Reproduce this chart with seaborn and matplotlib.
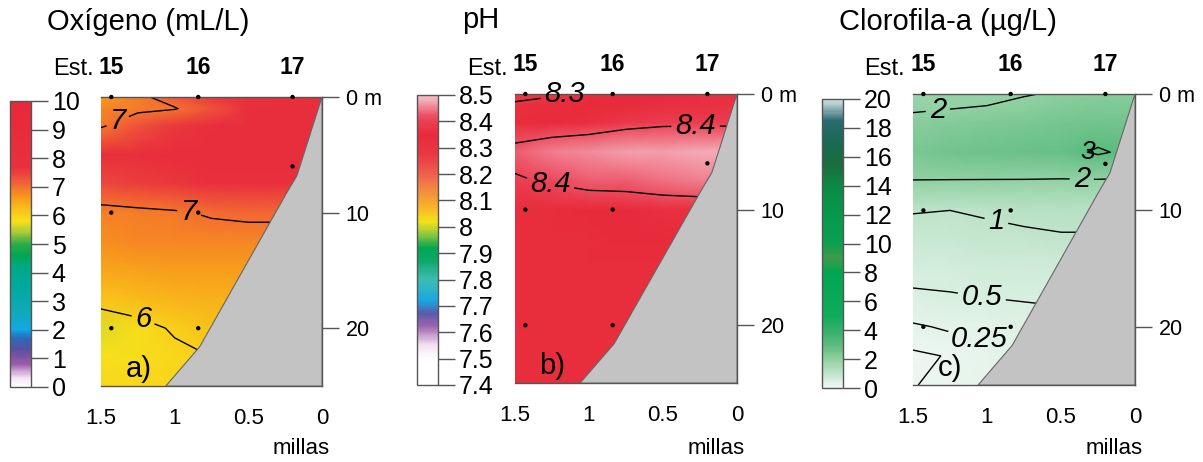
import numpy as np
import seaborn as sns
import matplotlib.pyplot as plt
from matplotlib.colors import LinearSegmentedColormap, Normalize
from matplotlib.cm import ScalarMappable

sns.set_theme(style='white')
plt.rcParams['font.family'] = ['Liberation Sans', 'DejaVu Sans']
plt.rcParams['text.color'] = 'black'

W, H = 1203, 462

# grid nodes: distance to coast (millas) and depth (m)
dist = [1.5, 1.25, 1.0, 0.75, 0.5, 0.25, 0.0]
depth = [0, 1, 2.5, 5, 7.5, 10, 12.5, 15, 17.5, 20, 22.5, 25]

oxygen = [
    [6.60, 6.90, 7.20, 7.60, 7.80, 7.90, 8.00],
    [6.80, 6.90, 6.97, 7.30, 7.90, 8.20, 8.30],
    [6.95, 7.30, 7.60, 8.00, 8.30, 8.50, 8.50],
    [7.80, 8.10, 8.40, 8.60, 8.70, 8.60, 8.50],
    [7.40, 7.50, 7.60, 7.70, 7.80, 7.80, 7.80],
    [6.85, 6.90, 6.95, 7.05, 7.10, 7.10, 7.10],
    [6.75, 6.80, 6.80, 6.80, 6.80, 6.80, 6.80],
    [6.50, 6.55, 6.60, 6.60, 6.60, 6.60, 6.60],
    [6.15, 6.25, 6.35, 6.40, 6.40, 6.40, 6.40],
    [5.70, 5.85, 6.05, 6.20, 6.20, 6.20, 6.20],
    [5.80, 5.85, 5.90, 6.00, 6.00, 6.00, 6.00],
    [5.90, 5.90, 5.90, 5.90, 5.90, 5.90, 5.90],
]

ph = [
    [8.28, 8.29, 8.32, 8.34, 8.35, 8.36, 8.36],
    [8.31, 8.33, 8.34, 8.35, 8.36, 8.36, 8.37],
    [8.33, 8.35, 8.36, 8.38, 8.39, 8.39, 8.39],
    [8.43, 8.45, 8.46, 8.47, 8.47, 8.48, 8.48],
    [8.39, 8.41, 8.43, 8.43, 8.44, 8.45, 8.45],
    [8.33, 8.33, 8.34, 8.35, 8.36, 8.36, 8.36],
    [8.33, 8.33, 8.33, 8.34, 8.34, 8.34, 8.34],
    [8.33, 8.33, 8.33, 8.33, 8.33, 8.33, 8.33],
    [8.33, 8.33, 8.33, 8.33, 8.33, 8.33, 8.33],
    [8.32, 8.33, 8.33, 8.33, 8.33, 8.33, 8.33],
    [8.33, 8.33, 8.33, 8.33, 8.33, 8.33, 8.33],
    [8.33, 8.33, 8.33, 8.33, 8.33, 8.33, 8.33],
]

chl = [
    [1.85, 1.88, 1.90, 1.97, 2.05, 2.15, 2.20],
    [1.90, 1.95, 2.00, 2.10, 2.20, 2.30, 2.30],
    [2.15, 2.20, 2.30, 2.40, 2.45, 2.50, 2.50],
    [2.40, 2.50, 2.60, 2.70, 2.75, 3.10, 2.80],
    [1.98, 1.97, 1.96, 1.95, 1.93, 1.92, 1.90],
    [1.02, 1.00, 1.05, 1.10, 1.15, 1.15, 1.15],
    [0.85, 0.85, 0.88, 0.92, 0.95, 0.95, 0.95],
    [0.60, 0.62, 0.65, 0.68, 0.70, 0.70, 0.70],
    [0.45, 0.47, 0.50, 0.52, 0.54, 0.55, 0.55],
    [0.22, 0.28, 0.28, 0.38, 0.40, 0.40, 0.40],
    [0.07, 0.11, 0.22, 0.30, 0.35, 0.35, 0.35],
    [0.095, 0.13, 0.16, 0.25, 0.30, 0.30, 0.30],
]

# stations and sampling points
stations = ['15', '16', '17']
station_dist = [1.43, 0.84, 0.2]
sample_dist = [1.43, 0.84, 0.2, 0.2, 1.43, 0.84, 1.43, 0.84]
sample_depth = [0, 0, 0, 6, 10, 10, 20, 20]

# sea floor
bottom_dist = [1.06, 0.83, 0.24, 0.17, 0.0, 0.0]
bottom_depth = [25, 21.6, 8.3, 6.8, 0.0, 25]

# colour scales
oxy_stops = [(0, '#ffffff'), (0.3, '#f3e4f3'), (0.8, '#9a5aa8'), (1.3, '#5a4fa0'),
             (1.7, '#2a6ab8'), (2.0, '#11a8e6'), (2.6, '#10aab8'), (3.5, '#00a99d'),
             (4.2, '#00a884'), (4.6, '#00a651'), (5.0, '#2bac4a'), (5.4, '#a6ca3a'),
             (5.8, '#f7e01b'), (6.2, '#f9c21a'), (6.7, '#f7941d'), (7.2, '#f15a3a'),
             (7.7, '#e8303d'), (10, '#e8283a')]
ph_stops = [(7.4, '#ffffff'), (7.5, '#ffffff'), (7.55, '#f3dff0'), (7.62, '#a066ae'),
            (7.67, '#5a5aa8'), (7.72, '#18a8e3'), (7.8, '#3dbcb0'), (7.87, '#10a86a'),
            (7.92, '#00a651'), (7.97, '#8dc63f'), (8.02, '#f3e21a'), (8.08, '#f8b02a'),
            (8.14, '#f38a40'), (8.2, '#ef6050'), (8.27, '#ea3a44'), (8.35, '#e8293a'),
            (8.42, '#ec4a5e'), (8.47, '#f29aa8'), (8.5, '#f6c2c8')]
chl_stops = [(0, '#eef7f2'), (0.5, '#d6eede'), (1, '#bde3c8'), (2, '#8fd0a2'),
             (2.5, '#72c48b'), (3, '#5abb7e'), (3.7, '#3db270'), (5, '#0fab5c'),
             (8, '#00a651'), (9, '#3f9a4a'), (10, '#0aa050'), (12, '#06994b'),
             (14, '#0a8a45'), (15.5, '#1b6b3e'), (17, '#1a6a52'), (18.5, '#2a6a70'),
             (20, '#d5e3e3')]


def make_cmap(stops):
    lo, hi = stops[0][0], stops[-1][0]
    return LinearSegmentedColormap.from_list(
        'c', [((v - lo) / (hi - lo), c) for v, c in stops])


def box(l, t, r, b):
    return [l / W, 1 - b / H, (r - l) / W, (b - t) / H]


panels = [
    dict(field=oxygen, stops=oxy_stops, ticks=list(range(0, 11)),
         levels=[6, 7], plain=[], labels=[(1.38, 2.3), (0.9, 9.8), (1.2, 18.8)], extra=None,
         ax=(101, 97, 322, 386), cb=(10, 101, 31, 387),
         title='Oxígeno (mL/L)', title_xy=(47, 22), est_x=94, tag='a)'),
    dict(field=ph, stops=ph_stops, ticks=[round(7.4 + 0.1 * i, 1) for i in range(12)],
         levels=[8.3, 8.4], plain=[], labels=[(1.02, 0.05), (0.28, 2.8), (1.25, 7.0)], extra=None,
         ax=(515, 94, 737, 383), cb=(417, 95, 438, 385),
         title='pH', title_xy=(462, 20), est_x=508, tag='b)'),
    dict(field=chl, stops=chl_stops, ticks=list(range(0, 21, 2)),
         levels=[0.25, 0.5, 1, 2], plain=[0.1],
         labels=[(1.33, 1.7), (0.36, 7.8), (0.93, 10.5), (1.03, 17.0), (1.04, 20.6)],
         extra=(3, 0.33, 4.6),
         ax=(913, 94, 1135, 385), cb=(822, 99, 843, 388),
         title='Clorofila-a (µg/L)', title_xy=(839, 22), est_x=905, tag='c)'),
]

fig = plt.figure(figsize=(W / 100, H / 100), dpi=100)
X, Y = np.meshgrid(dist, depth)
grey = '#555555'
fmt = lambda v: f'{v:g}'

for p in panels:
    cmap = make_cmap(p['stops'])
    vmin, vmax = p['stops'][0][0], p['stops'][-1][0]
    Z = np.array(p['field'])

    ax = fig.add_axes(box(*p['ax']))
    ax.pcolormesh(X, Y, Z, shading='gouraud', cmap=cmap, vmin=vmin, vmax=vmax, zorder=1)
    cs = ax.contour(X, Y, Z, levels=p['levels'], colors='black', linewidths=1.0, zorder=2)
    texts = ax.clabel(cs, manual=p['labels'], inline=True, inline_spacing=4,
                      fontsize=21, fmt=fmt)
    if p['plain']:
        ax.contour(X, Y, Z, levels=p['plain'], colors='black', linewidths=1.0, zorder=2)
    if p['extra'] is not None:
        lv, ex, ey = p['extra']
        cs3 = ax.contour(X, Y, Z, levels=[lv], colors='black', linewidths=1.0, zorder=2)
        texts += ax.clabel(cs3, manual=[(ex, ey)], inline=False, fontsize=19, fmt=fmt)
    for t in texts:
        t.set_rotation(0)
        t.set_fontstyle('italic')
        t.set_clip_on(False)
        t.set_zorder(6)

    ax.fill(bottom_dist, bottom_depth, color='#c3c3c3', ec='#666666', lw=0.8, zorder=3)
    sns.scatterplot(x=sample_dist, y=sample_depth, ax=ax, color='black', s=10,
                    edgecolor='none', zorder=5, clip_on=False)

    ax.set_xlim(1.5, 0)
    ax.set_ylim(25, 0)
    ax.set_xticks([1.5, 1, 0.5, 0], ['1.5', '1', '0.5', '0'])
    ax.yaxis.tick_right()
    ax.set_yticks([0, 10, 20], ['0 m', '10', '20'])
    ax.tick_params(axis='x', length=12, width=1, color=grey, labelcolor='black',
                   labelsize=16, pad=4)
    ax.tick_params(axis='y', length=12, width=1, color=grey, labelcolor='black',
                   labelsize=15.5, pad=5, right=True, left=False)
    for side in ['top', 'right', 'bottom']:
        ax.spines[side].set_color(grey)
        ax.spines[side].set_linewidth(1)
    ax.spines['left'].set_visible(False)
    ax.set_xlabel('')
    ax.set_ylabel('')

    top = ax.secondary_xaxis('top')
    top.set_xticks(station_dist, stations)
    top.tick_params(length=0, labelsize=16.5, labelcolor='black', pad=13)
    for lab in top.get_xticklabels():
        lab.set_fontweight('bold')
    top.spines['top'].set_visible(False)

    ax.text(0.11, 0.03, p['tag'], transform=ax.transAxes, fontsize=21, zorder=6)

    cax = fig.add_axes(box(*p['cb']))
    cb = fig.colorbar(ScalarMappable(norm=Normalize(vmin, vmax), cmap=cmap), cax=cax)
    cb.set_ticks(p['ticks'], labels=[f'{v:g}' for v in p['ticks']])
    cax.tick_params(length=12, width=1, color=grey, labelcolor='black',
                    labelsize=18, pad=3)
    cb.outline.set_edgecolor(grey)
    cb.outline.set_linewidth(1)

    fig.text(p['title_xy'][0] / W, 1 - p['title_xy'][1] / H, p['title'],
             fontsize=21, va='center', ha='left')
    fig.text(p['est_x'] / W, 1 - 69 / H, 'Est.', fontsize=17, va='center', ha='right')
    ax_r = p['ax'][2]
    fig.text((ax_r - 21) / W, 1 - 448 / H, 'millas', fontsize=16, va='center', ha='center')

fig.savefig('out.png', dpi=100)
